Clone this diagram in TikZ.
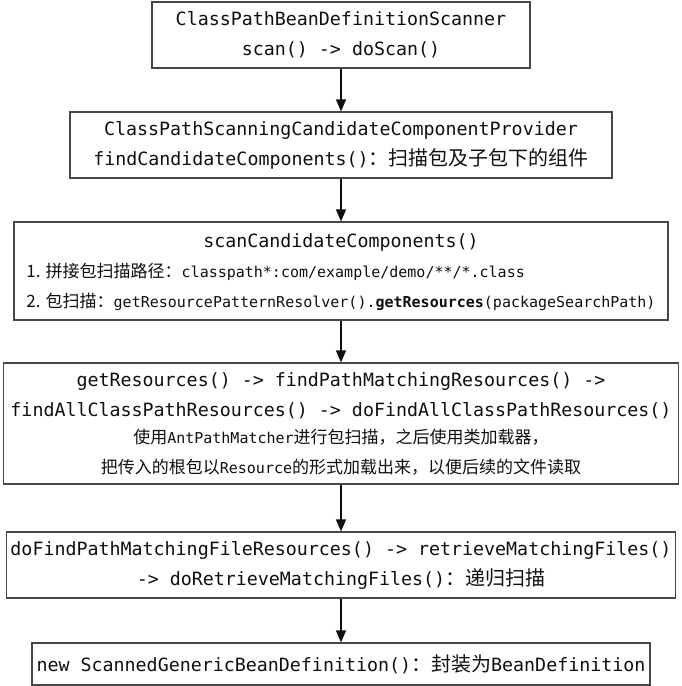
\documentclass[tikz,border=0pt]{standalone}
\usepackage{fontspec}
\setmonofont{DejaVu Sans Mono}
\newfontfamily\cjk{Noto Sans CJK SC}
\usepackage{xcolor}
\definecolor{boxgray}{RGB}{70, 70, 70}
\definecolor{inkblack}{RGB}{15, 15, 15}
\usepackage{tikz}
\usetikzlibrary{arrows.meta}

\newcommand{\codebig}{\fontsize{18.3}{30}\selectfont\ttfamily}
\newcommand{\codesmall}[1]{{\fontsize{15}{28.5}\selectfont\ttfamily #1}}
\newcommand{\zh}[1]{{\cjk\fontsize{20}{30}\selectfont #1}}
\newcommand{\zhsmall}[1]{{\cjk\fontsize{17}{28.5}\selectfont #1}}

\tikzset{
    stepbox/.style={draw=boxgray, line width=1.2pt, inner sep=0pt, align=center, text=inkblack, font=\codebig},
    flow/.style={-{Triangle[length=12pt, width=10pt]}, line width=1.3pt, draw=inkblack},
}

\begin{document}
\begin{tikzpicture}[x=1pt, y=-1pt]
    \useasboundingbox (0,0) rectangle (682,686);

    % call chain, top to bottom
    \node[stepbox, minimum width=378pt, minimum height=66pt] (scanner) at (341,35)
        {ClassPathBeanDefinitionScanner\\scan() -> doScan()};
    \node[stepbox, minimum width=542pt, minimum height=66pt] (provider) at (341,145)
        {ClassPathScanningCandidateComponentProvider\\findCandidateComponents()\zh{：扫描包及子包下的组件}};
    \node[stepbox, minimum width=654pt, minimum height=98pt] (scancand) at (341,271)
        {\begin{tabular}{@{}l@{}}
            \multicolumn{1}{@{}c@{}}{scanCandidateComponents()}\\
            \zhsmall{1. 拼接包扫描路径：}\codesmall{classpath*:com/example/demo/**/*.class}\\
            \zhsmall{2. 包扫描：}\codesmall{getResourcePatternResolver().\textbf{getResources}(packageSearchPath)}
        \end{tabular}};
    \node[stepbox, minimum width=675pt, minimum height=121pt] (getres) at (341,423.5)
        {getResources() -> findPathMatchingResources() ->\\
         findAllClassPathResources() -> doFindAllClassPathResources()\\[-3pt]
         \zhsmall{使用}\codesmall{AntPathMatcher}\zhsmall{进行包扫描，之后使用类加载器，}\\
         \zhsmall{把传入的根包以}\codesmall{Resource}\zhsmall{的形式加载出来，以便后续的文件读取}};
    \node[stepbox, minimum width=669pt, minimum height=66pt] (dofind) at (341,565)
        {doFindPathMatchingFileResources() -> retrieveMatchingFiles()\\
         -> doRetrieveMatchingFiles()\zh{：递归扫描}};
    \node[stepbox, minimum width=618pt, minimum height=42pt] (beandef) at (341,664)
        {new ScannedGenericBeanDefinition()\zh{：封装为}BeanDefinition};

    \draw[flow] (scanner) -- (provider);
    \draw[flow] (provider) -- (scancand);
    \draw[flow] (scancand) -- (getres);
    \draw[flow] (getres) -- (dofind);
    \draw[flow] (dofind) -- (beandef);
\end{tikzpicture}
\end{document}
